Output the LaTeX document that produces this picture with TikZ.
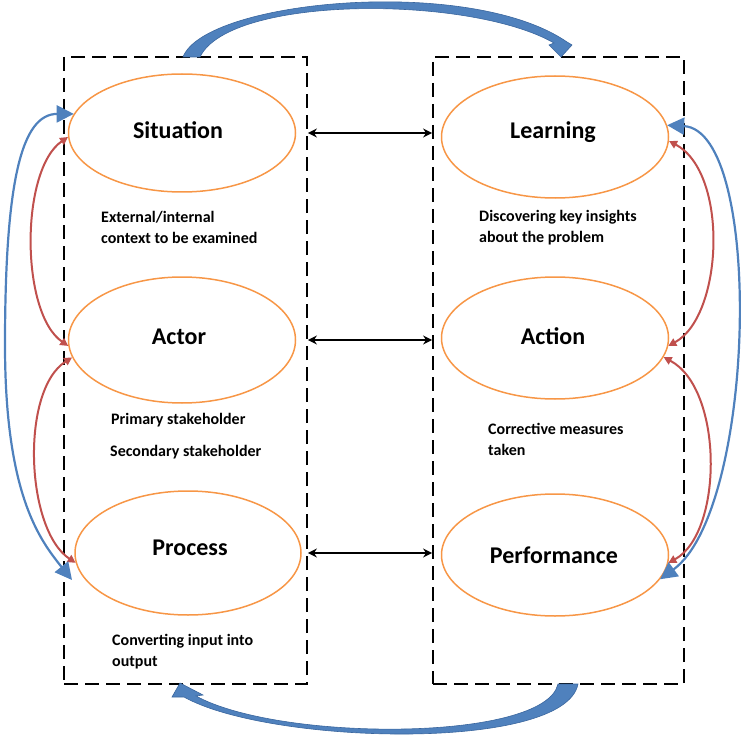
\documentclass[tikz,border=0pt]{standalone}
\usepackage{fontspec}
\setmainfont{Carlito}
\usetikzlibrary{shapes.geometric,arrows.meta}
\definecolor{orng}{HTML}{F79646}
\definecolor{bl}{HTML}{4F81BD}
\definecolor{bldark}{HTML}{3A669E}
\definecolor{rd}{HTML}{C0504D}
\begin{document}
\begin{tikzpicture}[x=1pt,y=-1pt,
  ell/.style={ellipse,draw=orng,line width=1.5pt,inner sep=0pt},
  ttl/.style={font=\fontsize{24}{28}\selectfont\bfseries,inner sep=0pt},
  desc/.style={font=\fontsize{16}{21}\selectfont\bfseries,anchor=west,align=left,inner sep=0pt},
  boxd/.style={draw,line width=1.8pt,dash pattern=on 14pt off 7pt,inner sep=0pt},
  bia/.style={line width=2pt,{Stealth[length=9pt,width=9pt]}-{Stealth[length=9pt,width=9pt]}},
  bluea/.style={draw=bl,line width=2.2pt,{Triangle[length=17pt,width=17pt]}-{Triangle[length=17pt,width=17pt]}},
  reda/.style={draw=rd,line width=2pt,{Triangle[length=8pt,width=8pt]}-{Triangle[length=8pt,width=8pt]}},
  blk/.style={fill=bl,draw=bldark,line width=0.6pt}
]
\useasboundingbox (0,0) rectangle (749,738);
% dashed boxes
\node[boxd,minimum width=243pt,minimum height=627pt] (Lbox) at (185.5,370.5) {};
\node[boxd,minimum width=251pt,minimum height=627pt] (Rbox) at (558.5,370.5) {};
% ellipses
\node[ell,minimum width=227pt,minimum height=118pt] (sit) at (182,133) {};
\node[ell,minimum width=227pt,minimum height=126pt] (act) at (182,340) {};
\node[ell,minimum width=226pt,minimum height=124pt] (proc) at (188,553) {};
\node[ell,minimum width=227pt,minimum height=122pt] (lrn) at (555,137) {};
\node[ell,minimum width=227pt,minimum height=122pt] (actn) at (555,338) {};
\node[ell,minimum width=227pt,minimum height=122pt] (perf) at (555,555) {};
% titles
\node[ttl] (tsit) at (178,130) {Situation};
\node[ttl] (tact) at (179,337) {Actor};
\node[ttl] (tproc) at (190,548) {Process};
\node[ttl] (tlrn) at (553,132) {Learning};
\node[ttl] (tactn) at (553,336) {Action};
\node[ttl] (tperf) at (554,555) {Performance};
% descriptions
\node[desc] (dsit) at (101,227.5) {External/internal\\context to be examined};
\node[desc] (dlrn) at (479,227.5) {Discovering key insights\\about the problem};
\node[desc] (dact1) at (111,420) {Primary stakeholder};
\node[desc] (dact2) at (110,452) {Secondary stakeholder};
\node[desc] (dactn) at (488,439) {Corrective measures\\taken};
\node[desc] (dproc) at (112,652) {Converting input into\\output};
% black double arrows
\draw[bia] (Lbox.east |- sit.center) -- (Rbox.west |- sit.center);
\draw[bia] (Lbox.east |- act.center) -- (Rbox.west |- act.center);
\draw[bia] (Lbox.east |- proc.center) -- (Rbox.west |- proc.center);
% red arrows
\draw[reda] (sit.182) .. controls +(-48,33) and +(-48,-33) .. (act.183);
\draw[reda] (act.189) .. controls +(-52,33) and +(-50,-33) .. (proc.185);
\draw[reda] (lrn.-2) .. controls +(60,32) and +(55,-30) .. (actn.-4);
\draw[reda] (actn.-10) .. controls +(60,32) and +(55,-30) .. (perf.-4);
% blue thin arrows
\coordinate (bLmid) at (5,345);
\coordinate (bLend) at (72,580);
\draw[bluea] (sit.170) .. controls +(-52,0) and +(0,-165) .. (bLmid)
  .. controls +(0,150) and +(-32,-40) .. (bLend);
\draw[bluea] (lrn.6) .. controls +(97,5) and +(96,-70) .. (perf.-13);
% block arrows
\path[blk] (183,57) .. controls (205,0) and (470,-25) .. (567,42) -- (572,45) -- (561,57) -- (549,45) -- (554,43)
  .. controls (470,-5) and (230,-5) .. (200,57) -- cycle;
\path[blk] (578,684) .. controls (565,752) and (270,745) .. (184,697) -- (172,697) -- (180,683) -- (203,695) -- (196,696)
  .. controls (280,742) and (545,742) .. (558,684) -- cycle;
\end{tikzpicture}
\end{document}
